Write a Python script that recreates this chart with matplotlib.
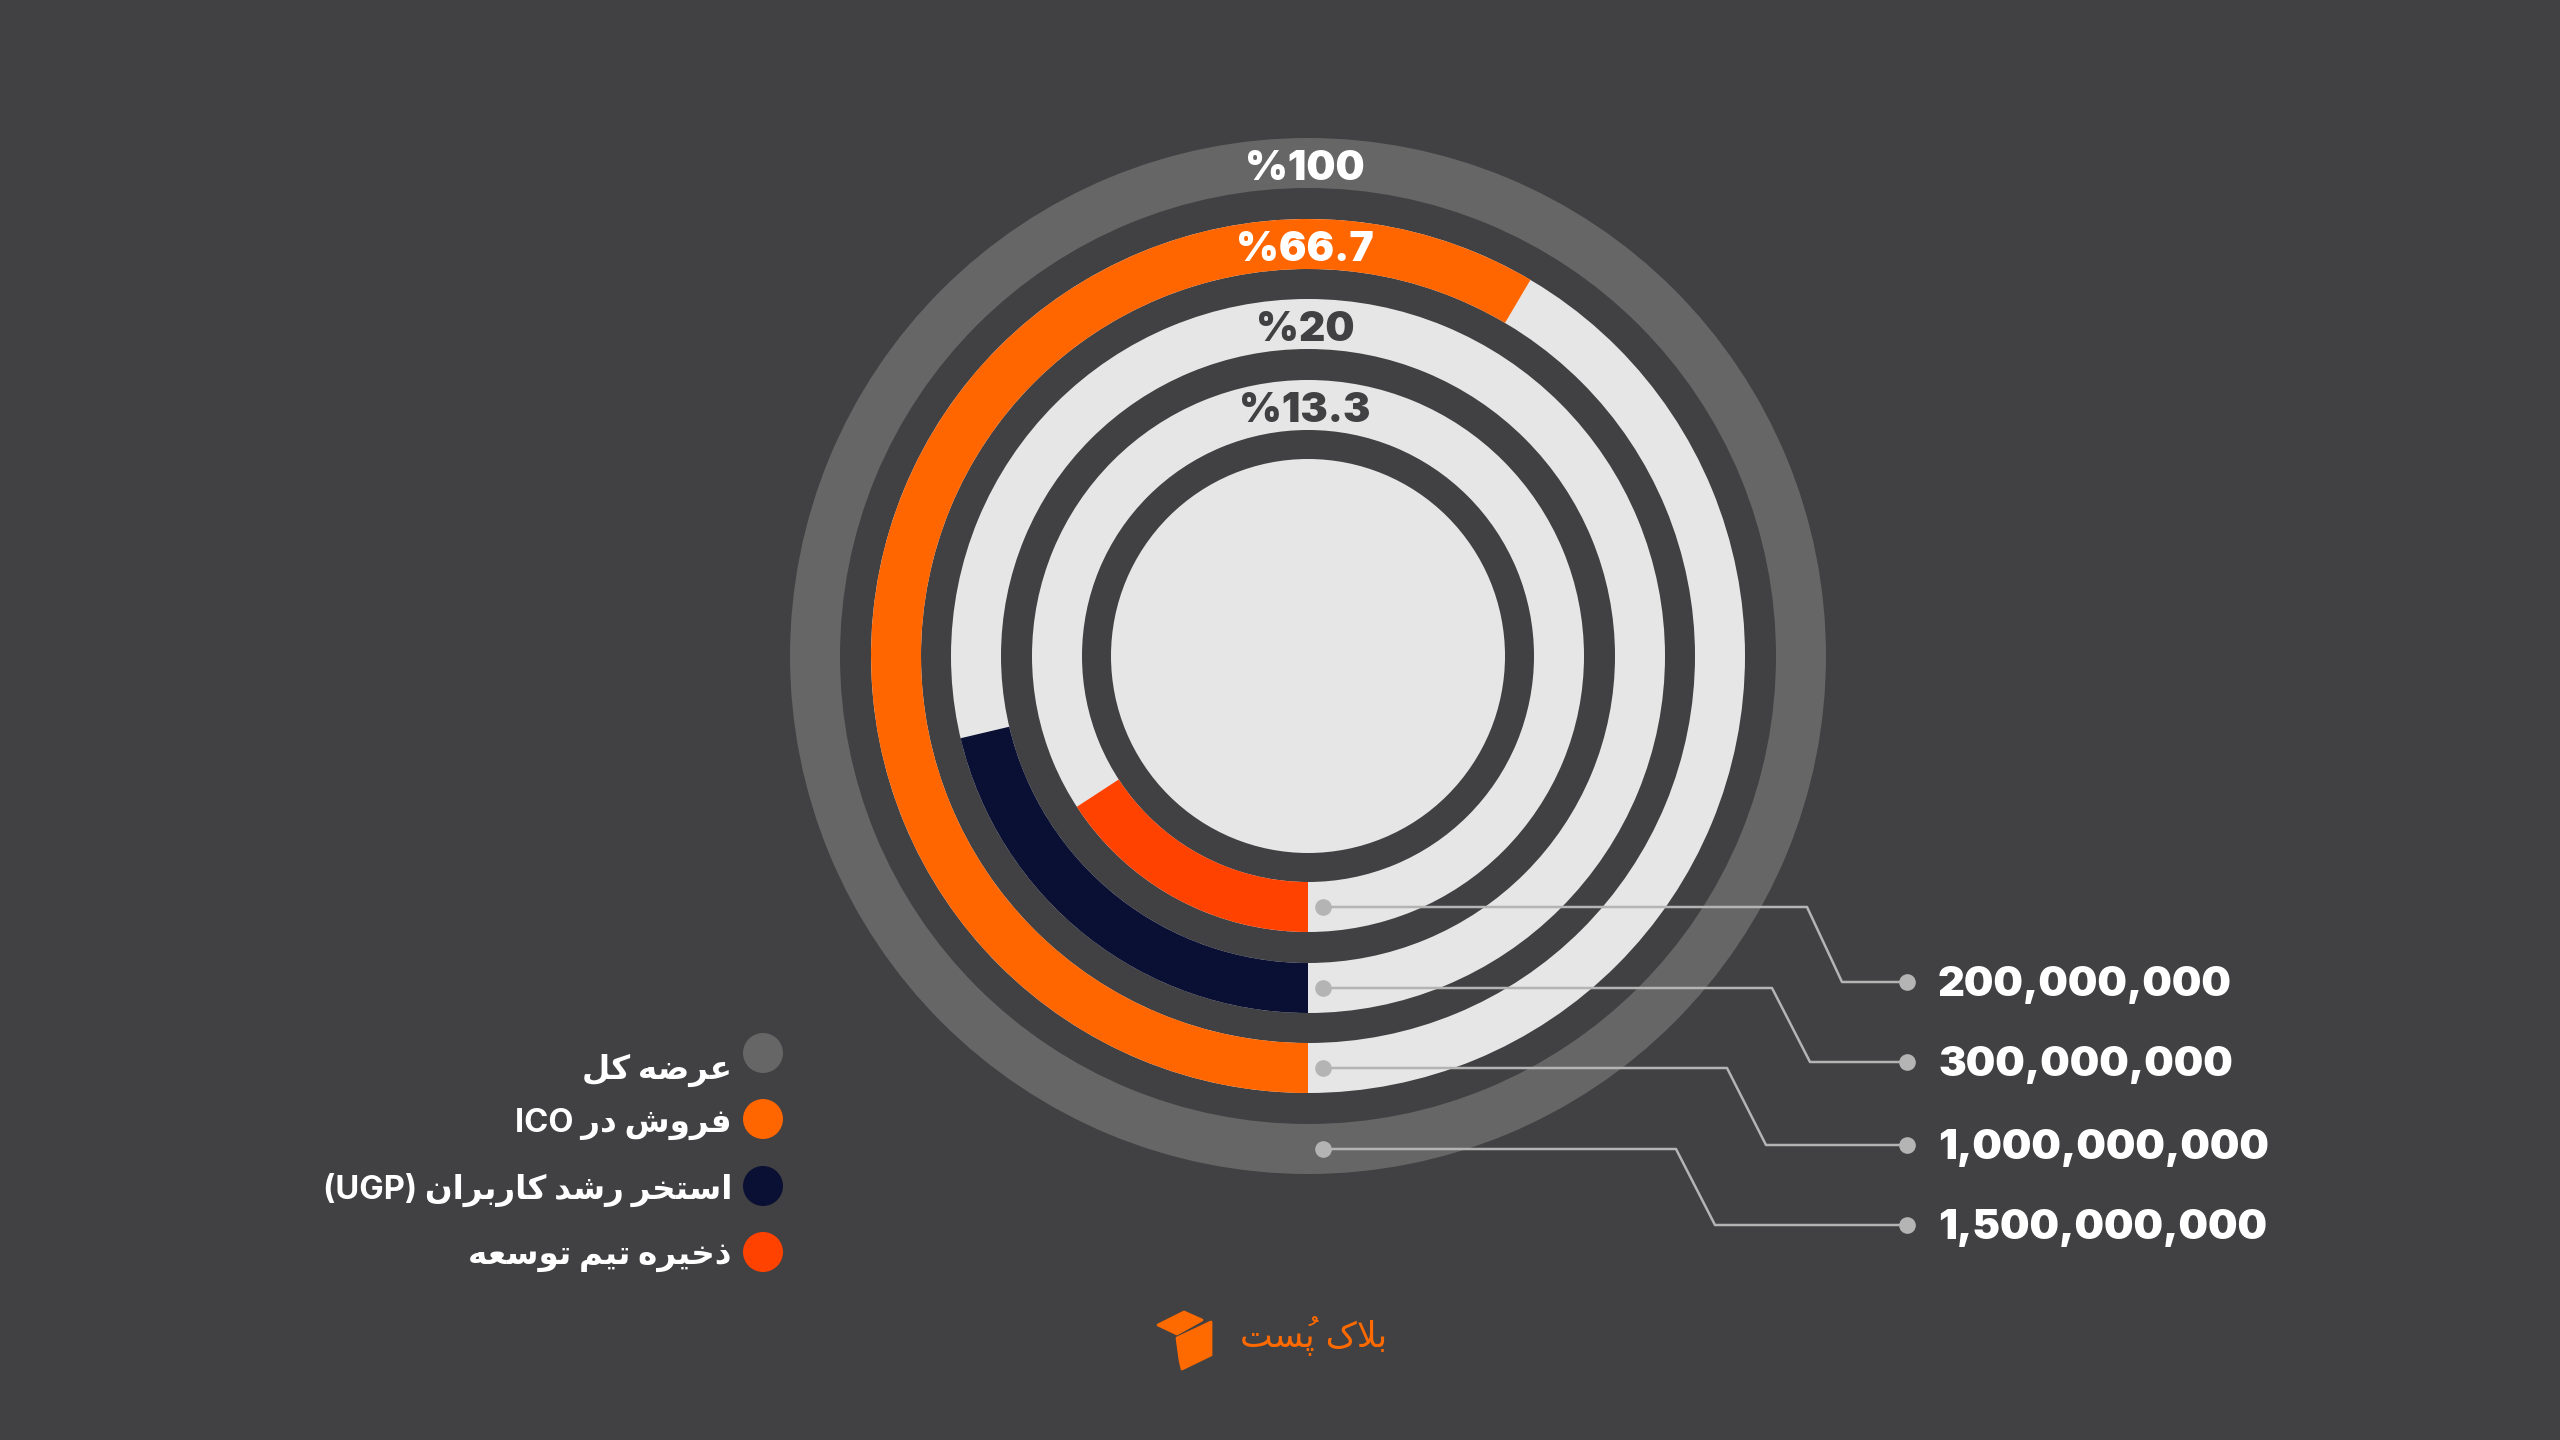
import matplotlib
matplotlib.use("Agg")
import matplotlib.pyplot as plt
from matplotlib.patches import Wedge, Circle, Polygon

# ---------------- data ----------------
series_names = ["عرضه کل", "فروش در ICO", "استخر رشد کاربران (UGP)", "ذخیره تیم توسعه"]
token_values = [1500000000, 1000000000, 300000000, 200000000]
pct_labels = ["%100", "%66.7", "%20", "%13.3"]
# share of the full circle each arc covers, as drawn in the reference
arc_share = [1.0, 0.585, 0.213, 0.158]
series_colors = ["#666666", "#ff6600", "#0a1033", "#ff4200"]
brand_name = "بلاک پُست"

# ---------------- style ----------------
BG = "#414042"
TRACK = "#e6e6e6"
LINE = "#b4b4b4"
LATIN = "Inter"

# ---------------- minimal Persian shaping ----------------
FORMS = {
    '\u0627': ('\uFE8D', '\uFE8E', None, None),
    '\u0628': ('\uFE8F', '\uFE90', '\uFE91', '\uFE92'),
    '\u067E': ('\uFB56', '\uFB57', '\uFB58', '\uFB59'),
    '\u062A': ('\uFE95', '\uFE96', '\uFE97', '\uFE98'),
    '\u062E': ('\uFEA5', '\uFEA6', '\uFEA7', '\uFEA8'),
    '\u062F': ('\uFEA9', '\uFEAA', None, None),
    '\u0630': ('\uFEAB', '\uFEAC', None, None),
    '\u0631': ('\uFEAD', '\uFEAE', None, None),
    '\u0633': ('\uFEB1', '\uFEB2', '\uFEB3', '\uFEB4'),
    '\u0634': ('\uFEB5', '\uFEB6', '\uFEB7', '\uFEB8'),
    '\u0636': ('\uFEBD', '\uFEBE', '\uFEBF', '\uFEC0'),
    '\u0639': ('\uFEC9', '\uFECA', '\uFECB', '\uFECC'),
    '\u0641': ('\uFED1', '\uFED2', '\uFED3', '\uFED4'),
    '\u06A9': ('\uFB8E', '\uFB8F', '\uFB90', '\uFB91'),
    '\u0644': ('\uFEDD', '\uFEDE', '\uFEDF', '\uFEE0'),
    '\u0645': ('\uFEE1', '\uFEE2', '\uFEE3', '\uFEE4'),
    '\u0646': ('\uFEE5', '\uFEE6', '\uFEE7', '\uFEE8'),
    '\u0647': ('\uFEE9', '\uFEEA', '\uFEEB', '\uFEEC'),
    '\u0648': ('\uFEED', '\uFEEE', None, None),
    '\u06CC': ('\uFBFC', '\uFBFD', '\uFBFE', '\uFBFF'),
}
MARKS = set('\u064B\u064C\u064D\u064E\u064F\u0650\u0651\u0652')


def is_arabic(word):
    return any(c in FORMS for c in word)


def shape_word(w):
    groups = []
    for c in w:
        if c in MARKS and groups:
            groups[-1][1].append(c)
        else:
            groups.append([c, []])
    merged = []
    j = 0
    while j < len(groups):
        if groups[j][0] == '\u0644' and j + 1 < len(groups) and groups[j + 1][0] == '\u0627':
            merged.append(['LA', groups[j][1] + groups[j + 1][1]])
            j += 2
        else:
            merged.append(groups[j])
            j += 1

    def jt(c):
        if c == 'LA':
            return 'R'
        if c in FORMS:
            return 'D' if FORMS[c][2] else 'R'
        return 'U'

    shaped = []
    for k, (c, marks) in enumerate(merged):
        prev = merged[k - 1][0] if k > 0 else None
        nxt = merged[k + 1][0] if k + 1 < len(merged) else None
        t = jt(c)
        jp = prev is not None and jt(prev) == 'D' and t in 'DR'
        jn = nxt is not None and t == 'D' and jt(nxt) in 'DR'
        if c == 'LA':
            g = '\uFEFC' if jp else '\uFEFB'
        elif t == 'U':
            g = c
        else:
            iso, fin, ini, med = FORMS[c]
            g = med if (jp and jn) else fin if jp else ini if jn else iso
        # mark placed before its base in visual (left-to-right) order
        shaped.append(''.join(marks) + g)
    return ''.join(reversed(shaped))


def rtl(text):
    words = text.split(' ')
    out = [shape_word(w) if is_arabic(w) else w for w in words]
    return ' '.join(reversed(out))


# ---------------- figure ----------------
fig = plt.figure(figsize=(25.6, 14.4), dpi=100, facecolor=BG)
ax = fig.add_axes([0, 0, 1, 1])
ax.set_xlim(0, 2560)
ax.set_ylim(1440, 0)
ax.set_aspect('equal')
ax.axis('off')
ax.set_facecolor(BG)

cx, cy = 1308, 656
ring_outer = [518, 437, 357, 276]
ring_w = 50
inner_r = 197

for i, (share, col) in enumerate(zip(arc_share, series_colors)):
    ro = ring_outer[i]
    if i > 0:
        ax.add_patch(Wedge((cx, cy), ro, 0, 360, width=ring_w, facecolor=TRACK, edgecolor='none'))
    ax.add_patch(Wedge((cx, cy), ro, 90, 90 + 360 * share, width=ring_w,
                       facecolor=col, edgecolor='none'))
    tc = 'white' if i < 2 else BG
    ax.text(cx - 3, cy - (ro - ring_w / 2) + 6, pct_labels[i], ha='center', va='center',
            fontsize=29.5, fontweight=900, family=[LATIN, 'DejaVu Sans'], color=tc)

ax.add_patch(Circle((cx, cy), inner_r, facecolor=TRACK, edgecolor='none'))

# connector lines with values
target_y = [1225, 1145, 1062, 982]
bend1 = [1676, 1727, 1772, 1807]
bend2 = [1715, 1766, 1810, 1842]
end_x = 1907
for i, val in enumerate(token_values):
    sy = cy + ring_outer[i] - ring_w / 2
    sx = cx + 15
    xs = [sx, bend1[i], bend2[i], end_x]
    ys = [sy, sy, target_y[i], target_y[i]]
    ax.plot(xs, ys, color=LINE, lw=1.8, solid_joinstyle='round', zorder=5)
    ax.plot([sx, end_x], [sy, target_y[i]], 'o', color=LINE, ms=12, mec='none', zorder=6)
    ax.text(1938, target_y[i] + 3, f"{val:,}", ha='left', va='center', fontsize=30,
            fontweight=900, family=[LATIN, 'DejaVu Sans'], color='white')

# legend
leg_y = [1053, 1119, 1186, 1252]
txt_y = [1070, 1124, 1190, 1256]
for i, name in enumerate(series_names):
    ax.add_patch(Circle((763, leg_y[i]), 20, facecolor=series_colors[i], edgecolor='none'))
    ax.text(732, txt_y[i], rtl(name), ha='right', va='center', fontsize=23.5,
            fontweight='bold', family=[LATIN, 'DejaVu Sans'], color='white')

# brand logo
ORANGE = "#ff6a00"
ax.add_patch(Polygon([(1158, 1325), (1184, 1312), (1202, 1320), (1177, 1334)],
                     closed=True, facecolor=ORANGE, edgecolor=ORANGE, lw=2, joinstyle='round'))
ax.add_patch(Polygon([(1177, 1338), (1211, 1322), (1211, 1355), (1182, 1369), (1180, 1360)],
                     closed=True, facecolor=ORANGE, edgecolor=ORANGE, lw=2, joinstyle='round'))
ax.text(1240, 1336, rtl(brand_name), ha='left', va='center', fontsize=25,
        family=['DejaVu Sans'], color=ORANGE)

fig.savefig("out.png", dpi=100, facecolor=BG)
